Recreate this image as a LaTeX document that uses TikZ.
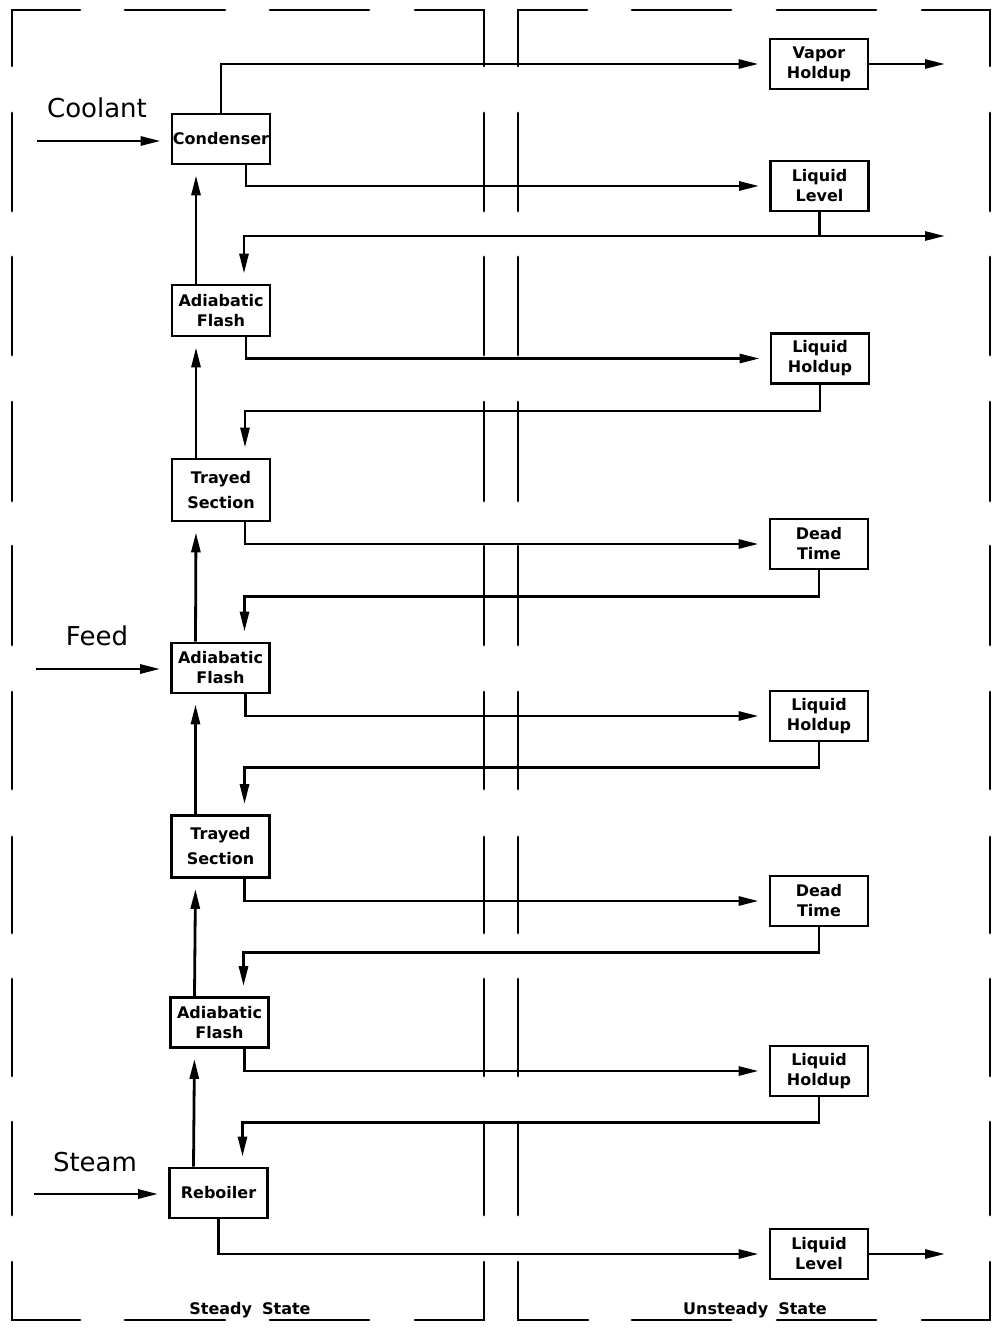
\documentclass[tikz,border=0pt]{standalone}
\usepackage{fontspec}
\setmainfont{DejaVu Sans}
\usetikzlibrary{arrows.meta}

\begin{document}
\begin{tikzpicture}[x=1pt,y=-1pt,
  line width=2.8pt,
  unit/.style={draw, rectangle, minimum width=98pt, minimum height=50pt,
    inner sep=0pt, align=center, font=\fontsize{16}{20}\selectfont\bfseries},
  tall/.style={unit, minimum height=62pt, font=\fontsize{16}{25}\selectfont\bfseries},
  tip/.style={-{Triangle[length=20pt,width=9pt]}},
  flow/.style={tip, shorten >=10pt},
  frame/.style={line cap=round},
  streamlabel/.style={font=\fontsize{26}{26}\selectfont},
  region/.style={font=\fontsize{16}{16}\selectfont\bfseries, anchor=base}
]
\useasboundingbox (0,0) rectangle (996,1332);
\fill[white] (0,0) rectangle (996,1332);

% ---- dashed enclosures: steady state (left) and unsteady state (right)
\foreach \x in {12,484,518,990}
  \foreach \a/\b in {113/211, 257/355, 402/501, 546/645, 692/789, 837/933, 979/1076, 1122/1215}
    \draw[frame] (\x,\a) -- (\x,\b);
\foreach \y in {10,1320}
  \foreach \a/\b in {125/225, 270/369, 632/731, 777/876}
    \draw[frame] (\a,\y) -- (\b,\y);
\draw[frame] (80,10) -- (12,10) -- (12,66);
\draw[frame] (415,10) -- (484,10) -- (484,66);
\draw[frame] (587,10) -- (518,10) -- (518,66);
\draw[frame] (922,10) -- (990,10) -- (990,66);
\draw[frame] (12,1262) -- (12,1320) -- (80,1320);
\draw[frame] (415,1320) -- (484,1320) -- (484,1262);
\draw[frame] (518,1262) -- (518,1320) -- (588,1320);
\draw[frame] (922,1320) -- (990,1320) -- (990,1262);

% ---- steady-state column
\node[unit] (cond) at (221,139) {Condenser};
\node[unit, minimum height=51pt] (fl1) at (221,310.5) {Adiabatic\\Flash};
\node[tall] (tr1) at (221,490) {Trayed\\Section};
\node[unit] (fl2) at (220.5,668) {Adiabatic\\Flash};
\node[tall] (tr2) at (220.5,846.5) {Trayed\\Section};
\node[unit] (fl3) at (219.5,1022.5) {Adiabatic\\Flash};
\node[unit] (reb) at (218.5,1193) {Reboiler};

% ---- unsteady-state column
\node[unit] (vh) at (819,64) {Vapor\\Holdup};
\node[unit] (ll1) at (819.5,186) {Liquid\\Level};
\node[unit] (lh1) at (820,358.5) {Liquid\\Holdup};
\node[unit] (dt1) at (819,544) {Dead\\Time};
\node[unit] (lh2) at (819,716) {Liquid\\Holdup};
\node[unit] (dt2) at (819,901) {Dead\\Time};
\node[unit] (lh3) at (819,1071) {Liquid\\Holdup};
\node[unit] (ll2) at (819,1254) {Liquid\\Level};

% ---- external streams
\node[streamlabel] (coolant) at (97,108) {Coolant};
\node[streamlabel] (feed) at (97,636) {Feed};
\node[streamlabel] (steam) at (95,1162) {Steam};
\coordinate (coolin) at (37,141);
\coordinate (feedin) at (36,669);
\coordinate (steamin) at (34,1194);
\coordinate (vapout) at (945,64);
\coordinate (refout) at (945,236);
\coordinate (botout) at (945,1254);

\draw[flow] (coolin) -- (coolin -| cond.west);
\draw[flow] (feedin) -- (feedin -| fl2.west);
\draw[flow] (steamin) -- (steamin -| reb.west);

% ---- vapour rising through the column
\draw[flow] ([xshift=-25]fl1.north) -- ([xshift=-25]cond.south);
\draw[flow] ([xshift=-25]tr1.north) -- ([xshift=-25]fl1.south);
\draw[flow] ([xshift=-25]fl2.north) -- ([xshift=-25]tr1.south);
\draw[flow] ([xshift=-25]tr2.north) -- ([xshift=-25]fl2.south);
\draw[flow] ([xshift=-25]fl3.north) -- ([xshift=-25]tr2.south);
\draw[flow] ([xshift=-25]reb.north) -- ([xshift=-25]fl3.south);

% ---- condenser outlets
\draw[flow] (cond.north) |- (vh.west);
\draw[tip] (vh.east) -- (vapout);
\draw[flow] ([xshift=25]cond.south) |- (ll1.west);
\draw[flow] (ll1.south) -- (ll1.south |- refout) -| ([xshift=23]fl1.north);
\draw[tip] (ll1.south |- refout) -- (refout);

% ---- liquid legs: steady block -> dynamic element -> next block down
\draw[flow] ([xshift=25]fl1.south) |- (lh1.west);
\draw[flow] (lh1.south) -- ++(0,26) -| ([xshift=24]tr1.north);
\draw[flow] ([xshift=24]tr1.south) |- (dt1.west);
\draw[flow] (dt1.south) -- ++(0,26) -| ([xshift=24]fl2.north);
\draw[flow] ([xshift=25]fl2.south) |- (lh2.west);
\draw[flow] (lh2.south) -- ++(0,25) -| ([xshift=24]tr2.north);
\draw[flow] ([xshift=24]tr2.south) |- (dt2.west);
\draw[flow] (dt2.south) -- ++(0,25) -| ([xshift=24]fl3.north);
\draw[flow] ([xshift=25]fl3.south) |- (lh3.west);
\draw[flow] (lh3.south) -- ++(0,25) -| ([xshift=24]reb.north);

% ---- bottoms
\draw[flow] (reb.south) |- (ll2.west);
\draw[tip] (ll2.east) -- (botout);

% ---- region captions
\node[region] (steady) at (250,1314) {Steady\hspace{10pt}State};
\node[region] (unsteady) at (755,1314) {Unsteady\hspace{10pt}State};
\end{tikzpicture}
\end{document}
